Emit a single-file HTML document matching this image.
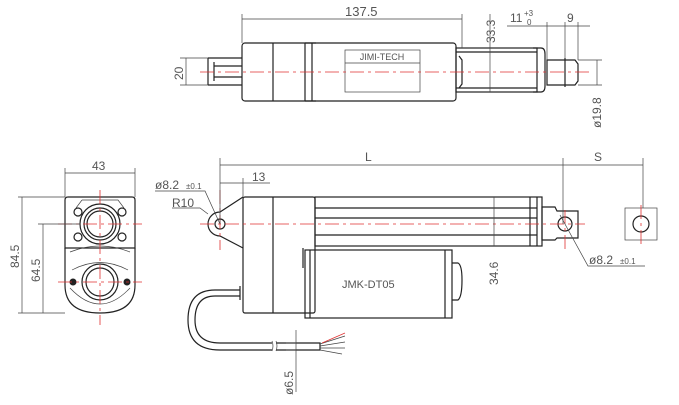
<!DOCTYPE html>
<html><head><meta charset="utf-8"><style>
html,body{margin:0;padding:0;background:#fff;}
svg{display:block;}
text{font-family:"Liberation Sans",sans-serif;fill:#555;}
.k{stroke:#222;fill:none;stroke-width:1.2;}
.t{stroke:#444;fill:none;stroke-width:0.7;}
.r{stroke:#e03030;fill:none;stroke-width:0.8;stroke-dasharray:14,4,3,4;}
</style></head><body>
<svg width="679" height="405" viewBox="0 0 679 405" xmlns="http://www.w3.org/2000/svg">
<!-- TOP VIEW -->
<path class="k" d="M208,58 H242 M208,85 H242 M208,58 V85 M214,62 V81 M214,66 H242 M214,77 H242"/>
<rect class="k" x="242" y="43" width="214" height="58" rx="3"/>
<line class="k" x1="273" y1="43" x2="273" y2="101"/>
<path class="k" d="M305,43 V101 M312,43 V101 M305,43 H316 M305,101 H316"/>
<rect class="t" x="345" y="50" width="75" height="42"/>
<line class="t" x1="345" y1="63" x2="420" y2="63"/>
<text x="382" y="60" font-size="9" text-anchor="middle" fill="#222">JIMI-TECH</text>
<rect class="k" x="456" y="48" width="81" height="44"/>
<path class="k" d="M456,52 H537 M456,88 H537 M459,56 L462,60 V84 L459,88 M533,48 H541 Q545,48 545,54 V86 Q545,92 541,92 H533"/>
<path class="k" d="M547,60 H575 L578,64 V81 L575,85 H547 Z M565,58 V87"/>
<line class="r" x1="200" y1="72" x2="590" y2="72"/>
<!-- dims top -->
<path class="t" d="M242,43 V14 M462,48 V14 M242,19 H462"/>
<text x="345" y="16" font-size="13">137.5</text>
<path class="t" d="M208,58 H180 M208,85 H180 M186,58 V85"/>
<text font-size="12" transform="translate(183,80) rotate(-90)">20</text>
<path class="t" d="M490,14 V92"/>
<text font-size="12" transform="translate(495,43) rotate(-90)">33.3</text>
<path class="t" d="M547,60 V22 M565,58 V22 M578,60 V22 M507,26 H590"/>
<text x="510" y="22" font-size="12">11</text>
<text x="524" y="16" font-size="8">+3</text>
<text x="527" y="25" font-size="8">0</text>
<text x="567" y="22" font-size="12">9</text>
<path class="t" d="M578,60 H602 M578,85 H602 M597,60 V85"/>
<text font-size="12" transform="translate(601,128) rotate(-90)">ø19.8</text>

<!-- END VIEW -->
<path class="k" d="M65,248 V200 Q65,197 68,197 H132 Q135,197 135,200 V248 Z"/>
<path class="k" d="M65,248 V285 Q65,313 100,313 Q135,313 135,285 V248"/>
<path class="t" d="M70,252 Q100,240 130,252 M72,270 Q100,255 128,270 M70,288 Q100,320 130,288"/>
<path class="t" d="M82,200 H118 L124,208 M82,200 L76,208"/>
<circle class="k" cx="100" cy="224" r="20"/>
<circle class="k" cx="100" cy="224" r="16"/>
<circle class="k" cx="100" cy="224" r="13"/>
<circle class="k" cx="78" cy="212" r="4"/><circle class="k" cx="122" cy="212" r="4"/>
<circle class="k" cx="78" cy="237" r="4"/><circle class="k" cx="122" cy="237" r="4"/>
<circle class="k" cx="100" cy="282" r="18"/>
<circle class="k" cx="100" cy="282" r="14"/>
<circle cx="73" cy="282" r="3.5" fill="#222"/><circle cx="127" cy="282" r="3.5" fill="#222"/>
<line class="r" x1="100" y1="190" x2="100" y2="325"/>
<line class="r" x1="58" y1="224" x2="142" y2="224"/>
<line class="r" x1="58" y1="282" x2="142" y2="282"/>
<path class="t" d="M65,197 V168 M135,197 V168 M65,173 H135"/>
<text x="92" y="170" font-size="12">43</text>
<path class="t" d="M65,197 H18 M65,313 H18 M22,197 V313 M80,224 H38 M43,224 V313"/>
<text font-size="12" transform="translate(19,268) rotate(-90)">84.5</text>
<text font-size="12" transform="translate(40,282) rotate(-90)">64.5</text>

<!-- SIDE VIEW -->
<path class="k" d="M243,197 L220,212 A10,10 0 0 0 220,236 L243,248"/>
<circle class="k" cx="220" cy="224" r="5"/>
<rect class="k" x="243" y="197" width="72" height="116" rx="2"/>
<line class="k" x1="273" y1="197" x2="273" y2="313"/>
<rect class="k" x="315" y="197" width="227" height="49"/>
<path class="k" d="M315,208 H537 M315,218 H537 M315,235 H537 M530,197 V246 M537,197 V246"/>
<path class="k" d="M542,207 H555 L557,211 H578 V238 H557 L555,240 H542 Z"/>
<circle class="k" cx="565" cy="224" r="7"/>
<rect class="k" x="305" y="250" width="147" height="68"/>
<path class="k" d="M303,248 V268 M310,250 V318 M445,250 V318 M452,263 H458 Q462,265 462,280 Q462,297 458,300 H452"/>
<text x="342" y="288" font-size="11" fill="#222">JMK-DT05</text>
<line class="r" x1="200" y1="224" x2="585" y2="224"/>
<line class="r" x1="220" y1="190" x2="220" y2="250"/>
<line class="r" x1="565" y1="210" x2="565" y2="250"/>
<rect class="t" x="625" y="208" width="32" height="32"/>
<circle class="k" cx="641" cy="224" r="8"/>
<line class="r" x1="641" y1="205" x2="641" y2="245"/>
<!-- cable -->
<path class="k" d="M240,290 H215 Q188,290 188,320 Q188,350 220,350 H272 M240,296 H215 Q195,296 195,320 Q195,343 220,343 H272"/>
<path class="k" d="M276,343 H320 V350 H276 M240,286 V300"/>
<path class="t" d="M272,341 q2,5 0,10 M276,341 q2,5 0,10"/>
<path class="t" d="M320,344 L345,336 M320,346 L345,342 M320,348 L345,348 M320,350 L342,354"/>
<path d="M322,343 L345,333" stroke="#e03030" stroke-width="0.7"/>
<path class="t" d="M296,330 V392 M296,343 H286 M296,350 H286"/>
<text font-size="12" transform="translate(293,395) rotate(-90)">ø6.5</text>
<!-- side dims -->
<path class="t" d="M220,224 V158 M563,224 V158 M643,208 V158 M220,165 H563 M563,165 H643 M220,183 H243 M243,197 V178 M223,183 H270"/>
<text x="365" y="161" font-size="12">L</text>
<text x="594" y="161" font-size="12">S</text>
<text x="252" y="181" font-size="12">13</text>
<path class="t" d="M155,191 H205 L220,224 M172,208 H200 L208,214"/>
<text x="155" y="189" font-size="12">ø8.2</text><text x="186" y="189" font-size="8">±0.1</text>
<text x="172" y="207" font-size="12">R10</text>
<path class="t" d="M494,197 V246 M560,215 L588,266 H645"/>
<text font-size="12" transform="translate(498,285) rotate(-90)">34.6</text>
<text x="589" y="264" font-size="12">ø8.2</text><text x="620" y="264" font-size="8">±0.1</text>
</svg>
</body></html>
